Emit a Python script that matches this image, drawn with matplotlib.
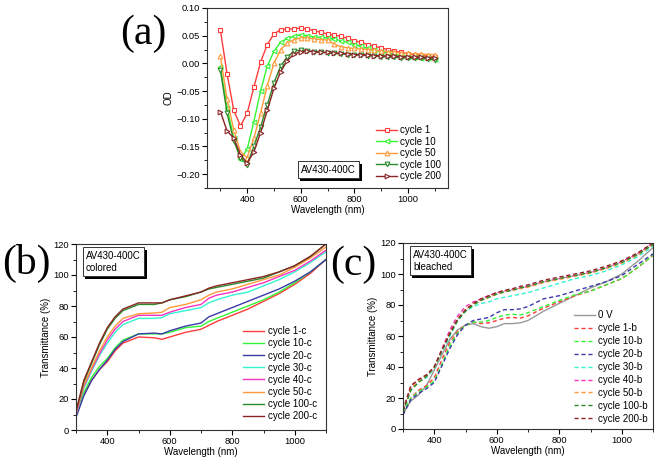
import matplotlib
matplotlib.use("Agg")
import matplotlib.pyplot as plt
from matplotlib.ticker import MultipleLocator
import matplotlib.patheffects as pe

plt.rcParams['font.family'] = ['Liberation Sans', 'DejaVu Sans']

# ---- panel (a): OD vs wavelength ----
wl_a = [300, 325, 350, 375, 400, 425, 450, 475, 500, 525, 550, 575, 600, 625, 650, 675,
        700, 725, 750, 775, 800, 825, 850, 875, 900, 925, 950, 975, 1000, 1025, 1050, 1075, 1100]
od_cycle1 = [0.060, -0.019, -0.085, -0.113, -0.090, -0.043, 0.002, 0.034, 0.053, 0.061, 0.062,
             0.062, 0.064, 0.062, 0.059, 0.056, 0.053, 0.051, 0.049, 0.045, 0.041, 0.038, 0.034,
             0.031, 0.028, 0.025, 0.022, 0.020, 0.017, 0.016, 0.014, 0.013, 0.011]
od_cycle10 = [-0.006, -0.080, -0.135, -0.173, -0.155, -0.105, -0.050, -0.005, 0.022, 0.038, 0.045,
              0.049, 0.052, 0.050, 0.048, 0.047, 0.046, 0.044, 0.041, 0.038, 0.034, 0.031, 0.027,
              0.024, 0.021, 0.018, 0.016, 0.014, 0.012, 0.011, 0.010, 0.009, 0.008]
od_cycle50 = [0.013, -0.065, -0.120, -0.160, -0.170, -0.135, -0.090, -0.040, 0.000, 0.025, 0.037,
              0.043, 0.046, 0.046, 0.044, 0.043, 0.042, 0.035, 0.030, 0.028, 0.027, 0.026, 0.025,
              0.024, 0.022, 0.021, 0.020, 0.019, 0.018, 0.017, 0.017, 0.016, 0.016]
od_cycle100 = [-0.012, -0.090, -0.140, -0.170, -0.183, -0.150, -0.115, -0.075, -0.035, -0.005, 0.012,
               0.022, 0.024, 0.023, 0.021, 0.020, 0.019, 0.018, 0.017, 0.016, 0.015, 0.015, 0.014,
               0.013, 0.012, 0.012, 0.011, 0.010, 0.010, 0.009, 0.009, 0.008, 0.007]
od_cycle200 = [-0.087, -0.122, -0.135, -0.165, -0.180, -0.160, -0.125, -0.085, -0.045, -0.015, 0.005,
               0.017, 0.021, 0.022, 0.021, 0.020, 0.020, 0.019, 0.018, 0.017, 0.016, 0.016, 0.015,
               0.014, 0.014, 0.013, 0.013, 0.012, 0.012, 0.011, 0.011, 0.010, 0.010]

# ---- panel (b): colored state transmittance ----
wl_b = [300, 325, 350, 375, 400, 425, 450, 500, 550, 575, 600, 650, 700, 725, 750, 800,
        850, 900, 950, 1000, 1050, 1100]
t_c1 = [10, 23, 32, 39, 44, 51, 56, 60, 59.5, 58.5, 60, 63, 65, 67.5, 70, 74, 78, 83, 88, 94, 101, 110]
t_c10 = [10, 24, 34, 41, 46, 53, 58, 62, 62, 62, 63, 66, 67, 70, 72, 76, 80, 84, 89, 95, 102, 110]
t_c20 = [8, 22, 32, 39, 45, 52, 57, 62, 62.5, 62, 64, 67, 69, 73, 75, 79, 83, 87, 91, 96, 102, 110]
t_c30 = [10, 27, 38, 48, 56, 63, 68, 72, 72, 72.5, 75, 77, 79, 82, 84, 87, 89, 93, 97, 102, 108, 115]
t_c40 = [10, 28, 39, 49, 58, 65, 70, 74, 74, 74, 76, 79, 81, 85, 87, 89, 92, 95, 99, 103, 109, 116]
t_c50 = [11, 29, 40, 51, 60, 67, 72, 75, 75.5, 76, 79, 81, 84, 87, 89, 91, 94, 97, 100, 105, 111, 118]
t_c100 = [12, 31, 43, 55, 65, 72, 77, 81, 81, 82, 84, 86, 89, 91, 92, 94, 96, 98, 102, 106, 112, 120]
t_c200 = [12, 32, 44, 56, 66, 73, 78, 82, 82, 82, 84, 86.5, 89, 91.5, 93, 95, 97, 99, 102, 106, 112, 120]

# ---- panel (c): bleached state transmittance ----
wl_c = [300, 325, 350, 375, 400, 425, 450, 475, 500, 525, 550, 575, 600, 625, 650, 675,
        700, 750, 800, 850, 900, 950, 1000, 1050, 1100]
t_0v = [10, 18, 22, 28, 38, 48, 58, 64, 67, 68, 66, 65, 66, 68, 68, 68.5, 70, 76, 81, 86, 91, 95, 100, 108, 117]
t_b1 = [10, 20, 25, 28, 33, 45, 56, 63, 67, 69, 68, 68.5, 70, 71.5, 72, 71.5, 73, 78, 82, 86, 89, 93, 97, 104, 112]
t_b10 = [10, 20, 24, 27, 31, 42, 54, 62, 67, 69, 69, 70, 72, 73.5, 74, 73.5, 75, 79, 83, 86.5, 89, 93, 97, 104, 112]
t_b20 = [9, 19, 23, 26, 30, 41, 52, 61, 67, 70, 71, 72, 75, 77, 77, 77.5, 79, 84, 86, 89, 92, 95, 99, 106, 113]
t_b30 = [11, 25, 31, 33, 39, 50, 60, 70, 76, 79, 81, 82, 84, 85, 86, 87, 88, 91, 94, 97, 99, 102, 106, 111, 118]
t_b40 = [12, 27, 32, 34, 40, 52, 64, 73, 79, 82, 84, 86, 88, 89, 90, 91, 92, 95, 97, 99, 101, 104, 108, 113, 120]
t_b50 = [11, 26, 31, 34, 40, 51, 62, 71, 77, 81, 83, 85, 87, 88.5, 89.5, 90.5, 91.5, 94.5, 96.5, 98.5, 100.5, 103.5, 107, 112, 119]
t_b100 = [11, 25, 30, 34, 40, 51, 61, 70, 76, 80, 83, 85, 87, 88.5, 89.5, 91, 92, 95, 97, 99, 101, 104, 107.5, 112.5, 119]
t_b200 = [12, 28, 32, 35, 40, 51, 62, 71, 77, 81, 84, 86, 88, 89.5, 90.5, 92, 93, 96, 98, 100, 102, 105, 108.5, 113.5, 120]

RED = '#ff3b3b'
LGREEN = '#33f533'
BLUE = '#3a3aa8'
CYAN = '#33f5d0'
MAGENTA = '#f533c0'
ORANGE = '#ff9a3a'
DGREEN = '#2b8a2b'
DRED = '#8a2525'


def style_axes(ax, xmajor, xminor, ymajor, yminor):
    ax.xaxis.set_major_locator(MultipleLocator(xmajor))
    ax.xaxis.set_minor_locator(MultipleLocator(xminor))
    ax.yaxis.set_major_locator(MultipleLocator(ymajor))
    ax.yaxis.set_minor_locator(MultipleLocator(yminor))
    ax.tick_params(which='major', direction='out', length=3.5, width=0.8, labelsize=6.7, pad=1.5)
    ax.tick_params(which='minor', direction='out', length=2, width=0.6)
    for s in ax.spines.values():
        s.set_linewidth(0.8)
        s.set_color('#333333')


def shadow_box(ax, x, y, txt):
    t = ax.text(x, y, txt, transform=ax.transAxes, fontsize=7, va='top', ha='left',
                linespacing=1.3,
                bbox=dict(boxstyle='square,pad=0.35', fc='white', ec='#333333', lw=0.7))
    t.get_bbox_patch().set_path_effects([pe.withSimplePatchShadow(offset=(2, -2), shadow_rgbFace='k', alpha=1.0)])
    return t


fig = plt.figure(figsize=(6.58, 4.62), dpi=100)

# (a)
ax_a = fig.add_axes([207 / 658, 1 - 188 / 462, 241 / 658, 180 / 462])
series_a = [(od_cycle1, RED, 's', 'cycle 1'), (od_cycle10, LGREEN, '<', 'cycle 10'),
            (od_cycle50, ORANGE, '^', 'cycle 50'), (od_cycle100, DGREEN, 'v', 'cycle 100'),
            (od_cycle200, DRED, '>', 'cycle 200')]
for vals, c, m, lab in series_a:
    ax_a.plot(wl_a, vals, color=c, marker=m, ms=3.4, mfc='white', mec=c, mew=0.8, lw=1.0, label=lab)
ax_a.set_xlim(250, 1150)
ax_a.set_ylim(-0.225, 0.10)
style_axes(ax_a, 200, 100, 0.05, 0.025)
ax_a.set_xlabel('Wavelength (nm)', fontsize=7, labelpad=1)
ax_a.set_ylabel('OD', fontsize=7, labelpad=2)
ax_a.legend(loc='lower right', frameon=False, fontsize=7, handlelength=2.2, handletextpad=0.3,
            labelspacing=0.15, borderaxespad=0.3, bbox_to_anchor=(1.0, 0.0))
shadow_box(ax_a, 0.39, 0.13, 'AV430-400C')
fig.text(120 / 658, 1 - 44 / 462, '(a)', fontsize=30, family='Liberation Serif')

# (b)
ax_b = fig.add_axes([76 / 658, 1 - 430 / 462, 250 / 658, 186 / 462])
series_b = [(t_c1, RED, 'cycle 1-c'), (t_c10, LGREEN, 'cycle 10-c'), (t_c20, BLUE, 'cycle 20-c'),
            (t_c30, CYAN, 'cycle 30-c'), (t_c40, MAGENTA, 'cycle 40-c'), (t_c50, ORANGE, 'cycle 50-c'),
            (t_c100, DGREEN, 'cycle 100-c'), (t_c200, DRED, 'cycle 200-c')]
for vals, c, lab in series_b:
    ax_b.plot(wl_b, vals, color=c, lw=1.0, label=lab)
ax_b.set_xlim(300, 1100)
ax_b.set_ylim(0, 120)
style_axes(ax_b, 200, 100, 20, 10)
ax_b.set_xlabel('Wavelength (nm)', fontsize=7, labelpad=1)
ax_b.set_ylabel('Transmittance (%)', fontsize=7, labelpad=2)
ax_b.legend(loc='lower right', frameon=False, fontsize=7, handlelength=2.2, handletextpad=0.4,
            labelspacing=0.22, borderaxespad=0.5)
shadow_box(ax_b, 0.04, 0.965, 'AV430-400C\ncolored')
fig.text(2 / 658, 1 - 274 / 462, '(b)', fontsize=30, family='Liberation Serif')

# (c)
ax_c = fig.add_axes([403 / 658, 1 - 429 / 462, 250 / 658, 186 / 462])
ax_c.plot(wl_c, t_0v, color='#999999', lw=1.0, label='0 V')
series_c = [(t_b1, RED, 'cycle 1-b'), (t_b10, LGREEN, 'cycle 10-b'), (t_b20, BLUE, 'cycle 20-b'),
            (t_b30, CYAN, 'cycle 30-b'), (t_b40, MAGENTA, 'cycle 40-b'), (t_b50, ORANGE, 'cycle 50-b'),
            (t_b100, DGREEN, 'cycle 100-b'), (t_b200, DRED, 'cycle 200-b')]
for vals, c, lab in series_c:
    ax_c.plot(wl_c, vals, color=c, lw=1.0, ls=(0, (3, 2)), label=lab)
ax_c.set_xlim(300, 1100)
ax_c.set_ylim(0, 120)
style_axes(ax_c, 200, 100, 20, 10)
ax_c.set_xlabel('Wavelength (nm)', fontsize=7, labelpad=1)
ax_c.set_ylabel('Transmittance (%)', fontsize=7, labelpad=2)
ax_c.legend(loc='lower right', frameon=False, fontsize=7, handlelength=2.2, handletextpad=0.3,
            labelspacing=0.3, borderaxespad=0.15)
shadow_box(ax_c, 0.04, 0.965, 'AV430-400C\nbleached')
fig.text(330 / 658, 1 - 275 / 462, '(c)', fontsize=30, family='Liberation Serif')

fig.savefig('out.png', dpi=100)
